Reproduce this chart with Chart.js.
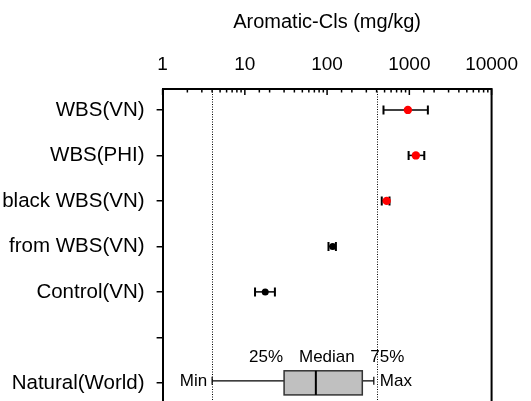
<!DOCTYPE html>
<html><head><meta charset="utf-8">
<script src="https://cdn.jsdelivr.net/npm/chart.js@4.4.0/dist/chart.umd.min.js"></script>
<style>html,body{margin:0;padding:0;background:#fff;overflow:hidden;width:531px;height:401px}
#wrap{width:531px;height:444px}</style></head>
<body><div id="wrap"><canvas id="c" width="531" height="444"></canvas></div>
<script>
const categories = ['WBS(VN)', 'WBS(PHI)', 'black WBS(VN)', 'from WBS(VN)', 'Control(VN)', '', 'Natural(World)'];
const xTickLabels = [1, 10, 100, 1000, 10000];
const meanValues = [960, 1200, 530, 117, 17.7];
const errLow = [485, 980, 462, 104, 13.3];
const errHigh = [1680, 1520, 574, 128, 23.2];
const pointColors = ['#ff0000', '#ff0000', '#ff0000', '#000000', '#000000'];
const pointSizes = [4.2, 4.2, 4.2, 3.5, 3.5];
const boxStats = [4, 30, 73, 268, 370]; // min, q1, median, q3, max
const boxRow = 6;
const boxLabels = ['Min', '25%', 'Median', '75%', 'Max'];
const refLines = [4, 400];
const axisTitle = 'Aromatic-Cls (mg/kg)';
const FONT = '"Liberation Sans", Arial, sans-serif';

const drawPlugin = {
  id: 'extras',
  beforeDatasetsDraw(chart) {
    const {ctx, chartArea: a, scales: {x, y}} = chart;
    ctx.save();
    // reference dotted lines
    ctx.strokeStyle = '#000'; ctx.lineWidth = 1; ctx.setLineDash([1, 1.5]);
    refLines.forEach(v => {
      const px = Math.round(x.getPixelForValue(v)) + 0.5;
      ctx.beginPath(); ctx.moveTo(px, a.top); ctx.lineTo(px, a.bottom); ctx.stroke();
    });
    ctx.setLineDash([]);
    // right border
    ctx.lineWidth = 2;
    ctx.beginPath(); ctx.moveTo(a.right, a.top - 1); ctx.lineTo(a.right, a.bottom); ctx.stroke();
    // inward x ticks
    ctx.lineWidth = 1.5;
    x.ticks.forEach(t => {
      const px = x.getPixelForValue(t.value);
      const major = xTickLabels.includes(t.value);
      ctx.beginPath(); ctx.moveTo(px, a.top); ctx.lineTo(px, a.top + (major ? 6 : 3.5)); ctx.stroke();
    });
    // error bars
    meanValues.forEach((m, i) => {
      const py = y.getPixelForValue(i);
      const xl = x.getPixelForValue(errLow[i]);
      const xh = x.getPixelForValue(errHigh[i]);
      ctx.lineWidth = 1.5;
      ctx.beginPath(); ctx.moveTo(xl, py); ctx.lineTo(xh, py); ctx.stroke();
      ctx.lineWidth = 2;
      ctx.beginPath();
      ctx.moveTo(xl, py - 4.5); ctx.lineTo(xl, py + 4.5);
      ctx.moveTo(xh, py - 4.5); ctx.lineTo(xh, py + 4.5);
      ctx.stroke();
    });
    // box plot
    const [mn, q1, md, q3, mx] = boxStats.map(v => x.getPixelForValue(v));
    const cy = y.getPixelForValue(boxRow);
    const half = (y.getPixelForValue(boxRow + 0.265) - y.getPixelForValue(boxRow - 0.265)) / 2;
    const wy = cy - 2;
    ctx.lineWidth = 1.2; ctx.strokeStyle = '#000';
    ctx.beginPath(); ctx.moveTo(mn, wy); ctx.lineTo(q1, wy); ctx.moveTo(q3, wy); ctx.lineTo(mx, wy); ctx.stroke();
    ctx.beginPath(); ctx.moveTo(mn, wy - 4); ctx.lineTo(mn, wy + 4); ctx.moveTo(mx, wy - 4); ctx.lineTo(mx, wy + 4); ctx.stroke();
    ctx.fillStyle = '#c0c0c0';
    ctx.fillRect(q1, cy - half, q3 - q1, 2 * half);
    ctx.strokeStyle = '#333'; ctx.lineWidth = 1.5;
    ctx.strokeRect(q1, cy - half, q3 - q1, 2 * half);
    ctx.strokeStyle = '#000'; ctx.lineWidth = 2;
    ctx.beginPath(); ctx.moveTo(md, cy - half); ctx.lineTo(md, cy + half); ctx.stroke();
    // box labels
    ctx.fillStyle = '#000'; ctx.font = '17px ' + FONT; ctx.textBaseline = 'middle';
    ctx.textAlign = 'right'; ctx.fillText(boxLabels[0], mn - 5, wy);
    ctx.textAlign = 'left'; ctx.fillText(boxLabels[4], mx + 6, wy);
    ctx.textAlign = 'center';
    const ly = cy - half - 13;
    ctx.fillText(boxLabels[1], q1 - 18, ly);
    ctx.fillText(boxLabels[2], md + 11, ly);
    ctx.fillText(boxLabels[3], q3 + 25, ly);
    ctx.restore();
  }
};

new Chart(document.getElementById('c'), {
  type: 'scatter',
  data: {
    datasets: [{
      data: meanValues.map((v, i) => ({x: v, y: i})),
      pointRadius: pointSizes,
      pointBackgroundColor: pointColors,
      pointBorderWidth: 0,
      showLine: false
    }]
  },
  options: {
    responsive: false, animation: false, events: [],
    layout: {padding: {left: 0, right: 30, top: 0, bottom: 0}},
    plugins: {legend: {display: false}, tooltip: {enabled: false}},
    scales: {
      x: {
        type: 'logarithmic', position: 'top', min: 1, max: 10000,
        afterFit(s) { s.height = 89; },
        ticks: {
          autoSkip: false, maxRotation: 0, padding: 13, color: '#000',
          font: {family: FONT, size: 19},
          callback(v) { return xTickLabels.includes(v) ? String(v) : ''; }
        },
        grid: {display: true, drawOnChartArea: false, drawTicks: false},
        border: {display: true, color: '#000', width: 2},
        title: {display: true, text: axisTitle, color: '#000', font: {family: FONT, size: 20}, padding: {top: 10, bottom: 0}}
      },
      y: {
        type: 'linear', reverse: true, min: -0.46, max: 6.81,
        afterFit(s) { s.width = 162.6; },
        afterBuildTicks(s) { s.ticks = categories.map((c, i) => ({value: i})); },
        ticks: {
          autoSkip: false, padding: 12, color: '#000',
          font: {family: FONT, size: 20.5},
          callback(v) { return categories[v]; }
        },
        grid: {display: true, drawOnChartArea: false, drawTicks: true, tickLength: 6, color: '#000', lineWidth: 1.5},
        border: {display: true, color: '#000', width: 2}
      }
    }
  },
  plugins: [drawPlugin]
});
</script></body></html>
